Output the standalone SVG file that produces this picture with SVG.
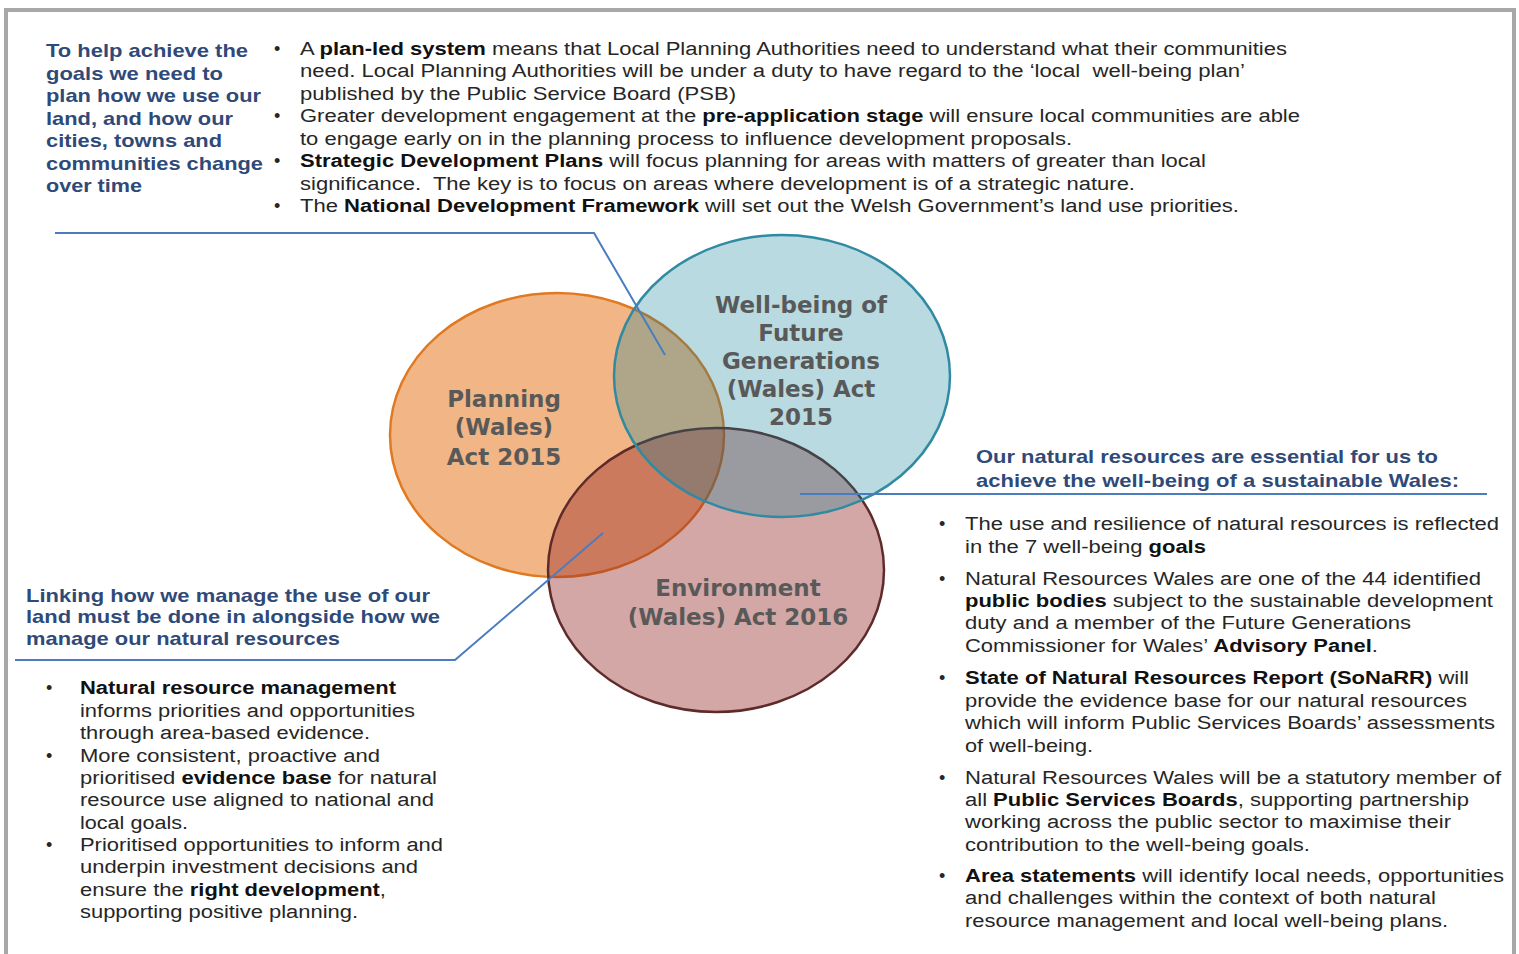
<svg xmlns="http://www.w3.org/2000/svg" width="1519" height="954" viewBox="0 0 1519 954">
<style>
.frame{fill:#fff;stroke:#a8a8a8;stroke-width:4}
.hd{font-family:"Liberation Sans",Arial,sans-serif;font-size:19px;font-weight:bold;fill:#2f4a78}
.tx{font-family:"Liberation Sans",Arial,sans-serif;font-size:18px;fill:#262626}
.tx tspan.b{font-weight:bold;fill:#111}
.bul{font-family:"Liberation Sans",Arial,sans-serif;font-size:18px;fill:#262626}
.lbl{font-family:"DejaVu Sans",Verdana,sans-serif;font-size:23px;font-weight:bold;fill:#595959;text-anchor:middle}
.conn{fill:none;stroke:#4a7cc0;stroke-width:2}
.circ{stroke-width:2.5}
</style>
<rect class="frame" x="6" y="10" width="1508" height="970"/>

<g id="planning">
<ellipse class="circ" cx="557" cy="435" rx="167" ry="142" fill="#f2b585" stroke="#e07a22"/>
</g>
<g id="environment">
<ellipse class="circ" cx="716" cy="570" rx="168" ry="142" fill="#932323" fill-opacity="0.4" stroke="#5e2a2a"/>
</g>
<g id="wellbeing">
<ellipse class="circ" cx="782" cy="376" rx="168" ry="141" fill="#0a8094" fill-opacity="0.29" stroke="#2f8aa2"/>
</g>
<g id="circle-labels">
<text class="lbl" x="504" y="407">Planning</text>
<text class="lbl" x="504" y="435">(Wales)</text>
<text class="lbl" x="504" y="465">Act 2015</text>
<text class="lbl" x="801" y="313">Well-being of</text>
<text class="lbl" x="801" y="341">Future</text>
<text class="lbl" x="801" y="369">Generations</text>
<text class="lbl" x="801" y="397">(Wales) Act</text>
<text class="lbl" x="801" y="425">2015</text>
<text class="lbl" x="738" y="596">Environment</text>
<text class="lbl" x="738" y="625">(Wales) Act 2016</text>
</g>

<g id="connectors">
<polyline class="conn" points="55,233 594,233 665,355"/>
<polyline class="conn" points="800,494 1487,494"/>
<polyline class="conn" points="603,533 455,660 15,660"/>
</g>

<g id="top-heading">
<text class="hd" x="46" y="57" textLength="202" lengthAdjust="spacingAndGlyphs">To help achieve the</text>
<text class="hd" x="46" y="79.5" textLength="177" lengthAdjust="spacingAndGlyphs">goals we need to</text>
<text class="hd" x="46" y="102" textLength="215" lengthAdjust="spacingAndGlyphs">plan how we use our</text>
<text class="hd" x="46" y="124.5" textLength="187" lengthAdjust="spacingAndGlyphs">land, and how our</text>
<text class="hd" x="46" y="147" textLength="176" lengthAdjust="spacingAndGlyphs">cities, towns and</text>
<text class="hd" x="46" y="169.5" textLength="217" lengthAdjust="spacingAndGlyphs">communities change</text>
<text class="hd" x="46" y="192" textLength="96" lengthAdjust="spacingAndGlyphs">over time</text>
</g>

<g id="top-bullets">
<text class="bul" x="274" y="54.5">•</text>
<text class="bul" x="274" y="122">•</text>
<text class="bul" x="274" y="167">•</text>
<text class="bul" x="274" y="212">•</text>
<text class="tx" x="300" y="54.5" textLength="987" lengthAdjust="spacingAndGlyphs">A <tspan class="b">plan-led system</tspan> means that Local Planning Authorities need to understand what their communities</text>
<text class="tx" x="300" y="77" textLength="945" lengthAdjust="spacingAndGlyphs" xml:space="preserve">need. Local Planning Authorities will be under a duty to have regard to the ‘local  well-being plan’</text>
<text class="tx" x="300" y="99.5" textLength="436" lengthAdjust="spacingAndGlyphs">published by the Public Service Board (PSB)</text>
<text class="tx" x="300" y="122" textLength="1000" lengthAdjust="spacingAndGlyphs">Greater development engagement at the <tspan class="b">pre-application stage</tspan> will ensure local communities are able</text>
<text class="tx" x="300" y="144.5" textLength="772" lengthAdjust="spacingAndGlyphs">to engage early on in the planning process to influence development proposals.</text>
<text class="tx" x="300" y="167" textLength="906" lengthAdjust="spacingAndGlyphs"><tspan class="b">Strategic Development Plans</tspan> will focus planning for areas with matters of greater than local</text>
<text class="tx" x="300" y="189.5" textLength="835" lengthAdjust="spacingAndGlyphs" xml:space="preserve">significance.  The key is to focus on areas where development is of a strategic nature.</text>
<text class="tx" x="300" y="212" textLength="939" lengthAdjust="spacingAndGlyphs">The <tspan class="b">National Development Framework</tspan> will set out the Welsh Government’s land use priorities.</text>
</g>

<g id="right-heading">
<text class="hd" x="976" y="463" textLength="462" lengthAdjust="spacingAndGlyphs">Our natural resources are essential for us to</text>
<text class="hd" x="976" y="487" textLength="483" lengthAdjust="spacingAndGlyphs">achieve the well-being of a sustainable Wales:</text>
</g>

<g id="right-bullets">
<text class="bul" x="939" y="530">•</text>
<text class="bul" x="939" y="585">•</text>
<text class="bul" x="939" y="684">•</text>
<text class="bul" x="939" y="784">•</text>
<text class="bul" x="939" y="882">•</text>
<text class="tx" x="965" y="530" textLength="534" lengthAdjust="spacingAndGlyphs">The use and resilience of natural resources is reflected</text>
<text class="tx" x="965" y="552.5" textLength="241" lengthAdjust="spacingAndGlyphs">in the 7 well-being <tspan class="b">goals</tspan></text>
<text class="tx" x="965" y="585" textLength="516" lengthAdjust="spacingAndGlyphs">Natural Resources Wales are one of the 44 identified</text>
<text class="tx" x="965" y="607" textLength="528" lengthAdjust="spacingAndGlyphs"><tspan class="b">public bodies</tspan> subject to the sustainable development</text>
<text class="tx" x="965" y="629" textLength="446" lengthAdjust="spacingAndGlyphs">duty and a member of the Future Generations</text>
<text class="tx" x="965" y="651.5" textLength="413" lengthAdjust="spacingAndGlyphs">Commissioner for Wales’ <tspan class="b">Advisory Panel</tspan>.</text>
<text class="tx" x="965" y="684" textLength="504" lengthAdjust="spacingAndGlyphs"><tspan class="b">State of Natural Resources Report (SoNaRR)</tspan> will</text>
<text class="tx" x="965" y="706.5" textLength="502" lengthAdjust="spacingAndGlyphs">provide the evidence base for our natural resources</text>
<text class="tx" x="965" y="728.5" textLength="530" lengthAdjust="spacingAndGlyphs">which will inform Public Services Boards’ assessments</text>
<text class="tx" x="965" y="751.5" textLength="128" lengthAdjust="spacingAndGlyphs">of well-being.</text>
<text class="tx" x="965" y="784" textLength="536" lengthAdjust="spacingAndGlyphs">Natural Resources Wales will be a statutory member of</text>
<text class="tx" x="965" y="806" textLength="504" lengthAdjust="spacingAndGlyphs">all <tspan class="b">Public Services Boards</tspan>, supporting partnership</text>
<text class="tx" x="965" y="828" textLength="486" lengthAdjust="spacingAndGlyphs">working across the public sector to maximise their</text>
<text class="tx" x="965" y="850.5" textLength="345" lengthAdjust="spacingAndGlyphs">contribution to the well-being goals.</text>
<text class="tx" x="965" y="882" textLength="539" lengthAdjust="spacingAndGlyphs"><tspan class="b">Area statements</tspan> will identify local needs, opportunities</text>
<text class="tx" x="965" y="904" textLength="471" lengthAdjust="spacingAndGlyphs">and challenges within the context of both natural</text>
<text class="tx" x="965" y="926.5" textLength="483" lengthAdjust="spacingAndGlyphs">resource management and local well-being plans.</text>
</g>

<g id="left-heading">
<text class="hd" x="26" y="601.5" textLength="404" lengthAdjust="spacingAndGlyphs">Linking how we manage the use of our</text>
<text class="hd" x="26" y="623" textLength="414" lengthAdjust="spacingAndGlyphs">land must be done in alongside how we</text>
<text class="hd" x="26" y="645" textLength="314" lengthAdjust="spacingAndGlyphs">manage our natural resources</text>
</g>

<g id="left-bullets">
<text class="bul" x="46" y="693.5">•</text>
<text class="bul" x="46" y="761.5">•</text>
<text class="bul" x="46" y="851">•</text>
<text class="tx" x="80" y="693.5" textLength="316" lengthAdjust="spacingAndGlyphs"><tspan class="b">Natural resource management</tspan></text>
<text class="tx" x="80" y="717" textLength="335" lengthAdjust="spacingAndGlyphs">informs priorities and opportunities</text>
<text class="tx" x="80" y="739" textLength="290" lengthAdjust="spacingAndGlyphs">through area-based evidence.</text>
<text class="tx" x="80" y="761.5" textLength="300" lengthAdjust="spacingAndGlyphs">More consistent, proactive and</text>
<text class="tx" x="80" y="784" textLength="357" lengthAdjust="spacingAndGlyphs">prioritised <tspan class="b">evidence base</tspan> for natural</text>
<text class="tx" x="80" y="806" textLength="354" lengthAdjust="spacingAndGlyphs">resource use aligned to national and</text>
<text class="tx" x="80" y="828.5" textLength="108" lengthAdjust="spacingAndGlyphs">local goals.</text>
<text class="tx" x="80" y="851" textLength="363" lengthAdjust="spacingAndGlyphs">Prioritised opportunities to inform and</text>
<text class="tx" x="80" y="873" textLength="338" lengthAdjust="spacingAndGlyphs">underpin investment decisions and</text>
<text class="tx" x="80" y="896" textLength="306" lengthAdjust="spacingAndGlyphs">ensure the <tspan class="b">right development</tspan>,</text>
<text class="tx" x="80" y="918" textLength="278" lengthAdjust="spacingAndGlyphs">supporting positive planning.</text>
</g>
</svg>
